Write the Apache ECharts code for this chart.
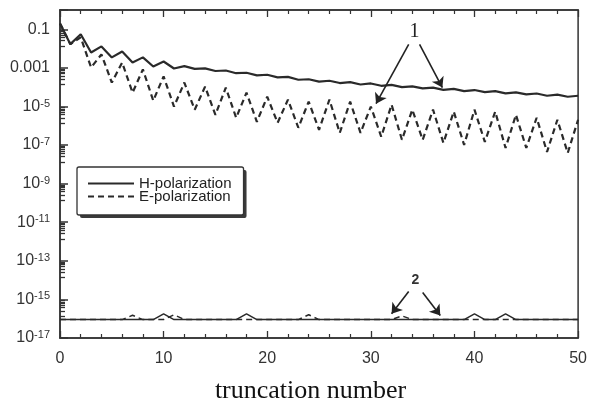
<!DOCTYPE html>
<html><head><meta charset="utf-8">
<script src="https://cdn.jsdelivr.net/npm/echarts@6/dist/echarts.min.js"></script>
<style>html,body{margin:0;padding:0;background:#fff}#c{width:590px;height:410px}</style>
</head><body><div id="c"></div>
<script>
const truncationNumbers = [0,1,2,3,4,5,6,7,8,9,10,11,12,13,14,15,16,17,18,19,20,21,22,23,24,25,26,27,28,29,30,31,32,33,34,35,36,37,38,39,40,41,42,43,44,45,46,47,48,49,50];
const hPolarization = [0.2,1.7e-2,5.5e-2,6.3e-3,1.3e-2,3.5e-3,7.1e-3,1.9e-3,3.5e-3,1.18e-3,2.15e-3,9.3e-4,1.23e-3,8.9e-4,9.4e-4,6.9e-4,7.3e-4,5.3e-4,5.6e-4,4.1e-4,4.4e-4,3.2e-4,3.4e-4,2.43e-4,2.58e-4,1.93e-4,2.15e-4,1.64e-4,1.82e-4,1.38e-4,1.56e-4,1.18e-4,1.32e-4,1.0e-4,1.11e-4,8.6e-5,9.5e-5,7.2e-5,8.1e-5,6.3e-5,7.1e-5,5.5e-5,6.2e-5,4.75e-5,5.4e-5,4.2e-5,4.7e-5,3.6e-5,4.1e-5,3.2e-5,3.6e-5];
const ePolarization = [0.2,1.7e-2,3.8e-2,1.05e-3,5.0e-3,1.74e-4,1.9e-3,5.2e-5,8.3e-4,2.0e-5,3.6e-4,9.8e-6,1.74e-4,6.8e-6,1.07e-4,3.7e-6,9.5e-5,2.6e-6,5.2e-5,1.6e-6,3.2e-5,1.43e-6,2.26e-5,7.9e-7,1.78e-5,6.2e-7,2.26e-5,4.3e-7,1.78e-5,4.3e-7,9.8e-6,2.7e-7,1.24e-5,1.87e-7,6.8e-6,1.87e-7,6.8e-6,1.3e-7,5.4e-6,1.02e-7,6.8e-6,1.47e-7,5.4e-6,7.1e-8,3.7e-6,7.1e-8,2.6e-6,4.4e-8,2.05e-6,3.9e-8,2.05e-6];
const hPolarizationFloor = [9e-17,9e-17,9e-17,9e-17,9e-17,9e-17,9e-17,9e-17,9e-17,9e-17,1.8e-16,9e-17,9e-17,9e-17,9e-17,9e-17,9e-17,9e-17,1.8e-16,9e-17,9e-17,9e-17,9e-17,9e-17,9e-17,9e-17,9e-17,9e-17,9e-17,9e-17,9e-17,9e-17,9e-17,9e-17,9e-17,9e-17,9e-17,9e-17,9e-17,9e-17,1.8e-16,9e-17,9e-17,1.8e-16,9e-17,9e-17,9e-17,9e-17,9e-17,9e-17,9e-17];
const ePolarizationFloor = [9e-17,9e-17,9e-17,9e-17,9e-17,9e-17,9e-17,1.5e-16,9e-17,9e-17,9e-17,1.6e-16,9e-17,9e-17,9e-17,9e-17,9e-17,9e-17,9e-17,9e-17,9e-17,9e-17,9e-17,9e-17,1.6e-16,9e-17,9e-17,9e-17,9e-17,9e-17,9e-17,9e-17,9e-17,1.4e-16,9e-17,9e-17,9e-17,9e-17,9e-17,9e-17,9e-17,9e-17,9e-17,9e-17,9e-17,9e-17,9e-17,9e-17,9e-17,9e-17,9e-17];
const yLabelExponents = [-1,-3,-5,-7,-9,-11,-13,-15,-17];
const seriesNames = ['H-polarization','E-polarization'];

const pairs = arr => truncationNumbers.map((n,i)=>[n,arr[i]]);
const ink = '#2a2a2a';

const legendBase = {
  data:seriesNames, orient:'vertical',
  itemWidth:46, itemHeight:10, itemGap:-2,
  padding:[9,12,11,10],
  borderRadius:2,
  itemStyle:{opacity:0}
};

const chart = echarts.init(document.getElementById('c'), null, {renderer:'canvas'});
const option = {
  animation:false,
  backgroundColor:'#ffffff',
  grid:{left:60,right:10,top:10,bottom:72,show:true,borderColor:'#333',borderWidth:1.5,backgroundColor:'transparent'},
  legend:[
    Object.assign({}, legendBase, {
      left:80, top:170, z:3, silent:true,
      backgroundColor:'#3a3a3a', borderWidth:0,
      lineStyle:{opacity:0},
      textStyle:{fontFamily:'Liberation Sans, Arial',fontSize:15,color:'rgba(0,0,0,0)'}
    }),
    Object.assign({}, legendBase, {
      left:77, top:167, z:4,
      backgroundColor:'#fff', borderColor:'#333', borderWidth:1.3,
      textStyle:{fontFamily:'Liberation Sans, Arial',fontSize:15,color:'#222'}
    })
  ],
  xAxis:[{
    type:'value', min:0, max:50, interval:10,
    axisLine:{lineStyle:{color:'#333',width:1.5}},
    axisTick:{inside:true,length:7,lineStyle:{color:'#333',width:1.3}},
    minorTick:{show:true,splitNumber:5,length:4,lineStyle:{color:'#333',width:1.2}},
    splitLine:{show:false},
    axisLabel:{fontFamily:'Liberation Sans, Arial',fontSize:16,color:'#333',margin:13},
    name:'truncation number', nameLocation:'middle', nameGap:40,
    nameTextStyle:{fontFamily:'Liberation Serif, Times New Roman',fontSize:26,color:'#111',padding:[0,17,0,0]}
  },{
    type:'value', min:0, max:50, interval:10, position:'top',
    axisLine:{lineStyle:{color:'#333',width:1.5}},
    axisTick:{inside:true,length:7,lineStyle:{color:'#333',width:1.3}},
    minorTick:{show:true,splitNumber:5,length:4,lineStyle:{color:'#333',width:1.2}},
    splitLine:{show:false}, axisLabel:{show:false}
  }],
  yAxis:{
    type:'log', logBase:10, min:1e-17, max:1, interval:2,
    axisLine:{lineStyle:{color:'#333',width:1.5}},
    axisTick:{inside:true,length:8,lineStyle:{color:'#333',width:1.5}},
    minorTick:{show:true,splitNumber:8,length:5,lineStyle:{color:'#333',width:1.3}},
    splitLine:{show:false},
    axisLabel:{
      margin:10,
      formatter:function(v){
        const e = Math.round(Math.log10(v));
        if (yLabelExponents.indexOf(e) < 0) return '';
        if (e === -1) return '{b|0.1}';
        if (e === -3) return '{b|0.001}';
        return '{b|10}{s|' + e + '}';
      },
      rich:{
        b:{fontFamily:'Liberation Sans, Arial',fontSize:16,color:'#333',lineHeight:17},
        s:{fontFamily:'Liberation Sans, Arial',fontSize:11,color:'#333',verticalAlign:'top',lineHeight:11}
      }
    }
  },
  series:[
    {name:seriesNames[0], type:'line', data:pairs(hPolarization), symbol:'none', z:3,
     itemStyle:{color:ink}, lineStyle:{color:ink,width:2.2},
     markLine:{silent:true, symbol:['none','arrow'], symbolSize:10,
       lineStyle:{color:'#222',width:1.6,type:'solid'}, label:{show:false},
       data:[
         [{coord:[33.65,0.0166]},{coord:[30.5,1.4e-5]}],
         [{coord:[34.7,0.0166]},{coord:[36.9,9.5e-5]}],
         [{coord:[33.65,2.6e-15]},{coord:[32.0,1.8e-16]}],
         [{coord:[35.0,2.3e-15]},{coord:[36.7,1.45e-16]}]
       ]},
     markPoint:{silent:true, symbol:'circle', symbolSize:1, itemStyle:{color:'rgba(0,0,0,0)'},
       data:[
         {coord:[34.2,0.079], label:{show:true,position:'inside',formatter:'1',fontFamily:'Liberation Serif',fontSize:20,color:'#222'}},
         {coord:[34.3,9.5e-15], label:{show:true,position:'inside',formatter:'2',fontFamily:'Liberation Sans',fontWeight:'bold',fontSize:14,color:'#333'}}
       ]}
    },
    {name:seriesNames[1], type:'line', data:pairs(ePolarization), symbol:'none', z:2,
     itemStyle:{color:ink}, lineStyle:{color:ink,width:2.2,type:[6,4]}},
    {name:seriesNames[0], type:'line', data:pairs(hPolarizationFloor), symbol:'none', z:3,
     itemStyle:{color:ink}, lineStyle:{color:ink,width:1.5}},
    {name:seriesNames[1], type:'line', data:pairs(ePolarizationFloor), symbol:'none', z:2,
     itemStyle:{color:ink}, lineStyle:{color:ink,width:1.5,type:[6,4]}}
  ]
};
chart.setOption(option);
</script>
</body></html>
